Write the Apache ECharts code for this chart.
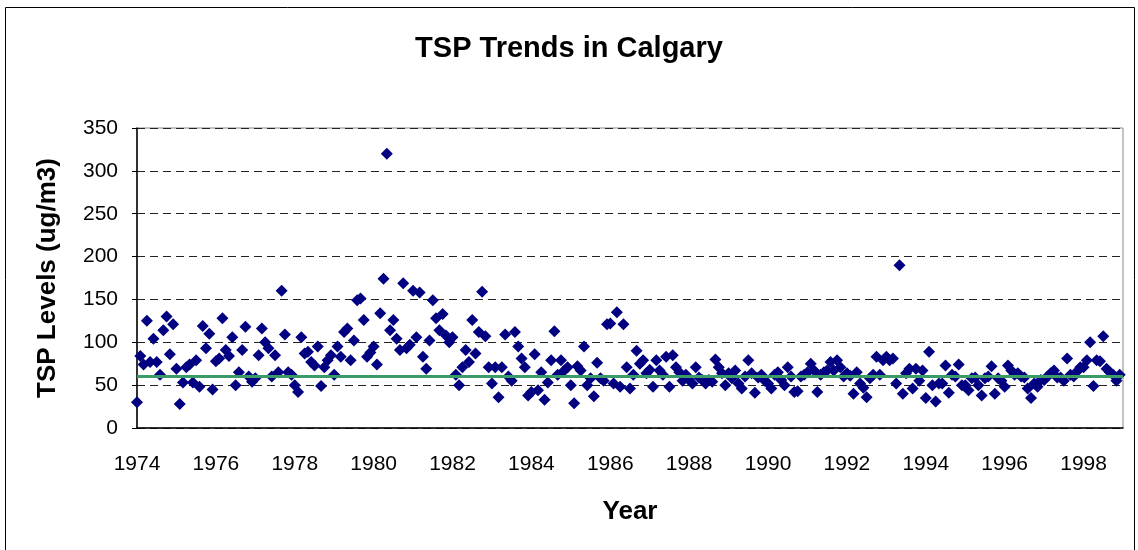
<!DOCTYPE html>
<html>
<head>
<meta charset="utf-8">
<title>TSP Trends in Calgary</title>
<style>
  html, body { margin: 0; padding: 0; background: #fff; }
  #myReport { width: 1138px; height: 550px; }
</style>
</head>
<body>
<div id="myReport"></div>
<script type="text/javascript" src="https://cdn.jsdelivr.net/npm/echarts@6/dist/echarts.min.js"></script>
<script type="text/javascript">
// monthly TSP readings, one row per year (Jan..Dec)
var startYear = 1974;
var tsp = [
  30, 84, 74, 125, 77, 104, 77, 62, 114, 130, 86, 121,    // 1974
  69, 28, 53, 71, 74, 53, 79, 48, 119, 93, 110, 45,       // 1975
  78, 81, 128, 91, 84, 106, 50, 65, 91, 118, 60, 54,      // 1976
  58, 85, 116, 100, 93, 60, 85, 65, 160, 109, 65, 62,     // 1977
  50, 42, 106, 87, 89, 77, 73, 95, 49, 71, 79, 85,        // 1978
  62, 95, 83, 112, 116, 79, 102, 149, 151, 126, 83, 88,   // 1979
  95, 74, 134, 174, 320, 114, 126, 104, 91, 169, 93, 97,  // 1980
  160, 106, 158, 83, 69, 102, 149, 128, 114, 133, 108, 100, // 1981
  106, 62, 50, 71, 91, 77, 126, 87, 112, 159, 107, 71,    // 1982
  52, 71, 36, 71, 109, 60, 55, 112, 95, 81, 71, 38,       // 1983
  42, 86, 44, 65, 33, 53, 79, 113, 62, 79, 67, 71,        // 1984
  50, 29, 72, 67, 95, 50, 58, 37, 76, 58, 55, 121,        // 1985
  122, 52, 135, 48, 121, 71, 46, 62, 90, 75, 79, 64,      // 1986
  68, 48, 79, 67, 62, 83, 48, 85, 71, 65, 55, 62,         // 1987
  56, 52, 71, 59, 56, 52, 56, 54, 80, 71, 64, 50,         // 1988
  64, 58, 67, 52, 46, 60, 79, 64, 41, 59, 62, 55,         // 1989
  52, 46, 62, 65, 56, 50, 71, 60, 42, 43, 60, 62,         // 1990
  65, 75, 67, 42, 62, 65, 67, 77, 67, 79, 71, 60,         // 1991
  64, 61, 40, 65, 52, 47, 36, 58, 62, 83, 62, 79,         // 1992
  83, 79, 81, 52, 190, 40, 64, 69, 46, 69, 55, 67,        // 1993
  35, 89, 50, 31, 52, 52, 73, 41, 62, 60, 74, 50,         // 1994
  50, 44, 58, 59, 50, 38, 58, 60, 72, 40, 58, 55,         // 1995
  48, 73, 67, 62, 64, 60, 59, 46, 35, 52, 48, 56,         // 1996
  56, 60, 64, 67, 59, 59, 55, 81, 62, 60, 66, 71,         // 1997
  71, 79, 100, 49, 79, 78, 107, 69, 65, 62, 55, 62        // 1998
];
var yTicks = [0, 50, 100, 150, 200, 250, 300, 350];
var limitLevel = 60;

function showChart() {
  var myChart = echarts.init(document.getElementById('myReport'));
  var pts = [];
  for (var i = 0; i < tsp.length; i++) {
    pts.push([startYear + i / 12, tsp[i]]);
  }
  var font = 'Liberation Sans, Arial, sans-serif';
  var option = {
    backgroundColor: '#fff',
    animation: false,
    title: {
      text: 'TSP Trends in Calgary',
      left: 'center',
      top: 29,
      textStyle: { fontFamily: font, fontSize: 29, fontWeight: 'bold', color: '#000' }
    },
    graphic: [{
      type: 'rect',
      shape: { x: 5.5, y: 7.5, width: 1129, height: 560 },
      style: { fill: 'none', stroke: '#000', lineWidth: 1 },
      silent: true
    }],
    grid: {
      left: 137, top: 128, right: 15, bottom: 122,
      show: true, borderColor: '#888', borderWidth: 1
    },
    xAxis: {
      type: 'value',
      min: 1974, max: 1999, interval: 2,
      name: 'Year',
      nameLocation: 'middle',
      nameGap: 71,
      nameTextStyle: { fontFamily: font, fontSize: 26, fontWeight: 'bold', color: '#000' },
      axisLine: { show: true, onZero: false, lineStyle: { color: '#000', width: 1.5 } },
      axisTick: { show: false },
      splitLine: { show: false },
      axisLabel: {
        margin: 26,
        fontFamily: font, fontSize: 21, color: '#000',
        showMaxLabel: false,
        formatter: function (v) { return v % 2 === 0 ? String(v) : ''; }
      }
    },
    yAxis: {
      type: 'value',
      min: yTicks[0], max: yTicks[yTicks.length - 1], interval: 50,
      name: 'TSP Levels (ug/m3)',
      nameLocation: 'middle',
      nameGap: 76,
      nameTextStyle: { fontFamily: font, fontSize: 26, fontWeight: 'bold', color: '#000' },
      axisLine: { show: true, lineStyle: { color: '#000', width: 1.5 } },
      axisTick: { show: true, length: 5, lineStyle: { color: '#000' } },
      axisLabel: { margin: 19, fontFamily: font, fontSize: 21, color: '#000' },
      splitLine: { show: true, lineStyle: { color: '#222', type: [8, 5], width: 1 } }
    },
    series: [{
      type: 'scatter',
      data: pts,
      symbol: 'diamond',
      symbolSize: 12,
      itemStyle: { color: '#000080', opacity: 1 },
      markLine: {
        silent: true,
        symbol: ['none', 'none'],
        label: { show: false },
        lineStyle: { color: '#3a9a68', width: 3, type: 'solid' },
        data: [{ yAxis: limitLevel }]
      },
      z: 3
    }]
  };
  myChart.setOption(option);
}
showChart();
</script>
</body>
</html>
